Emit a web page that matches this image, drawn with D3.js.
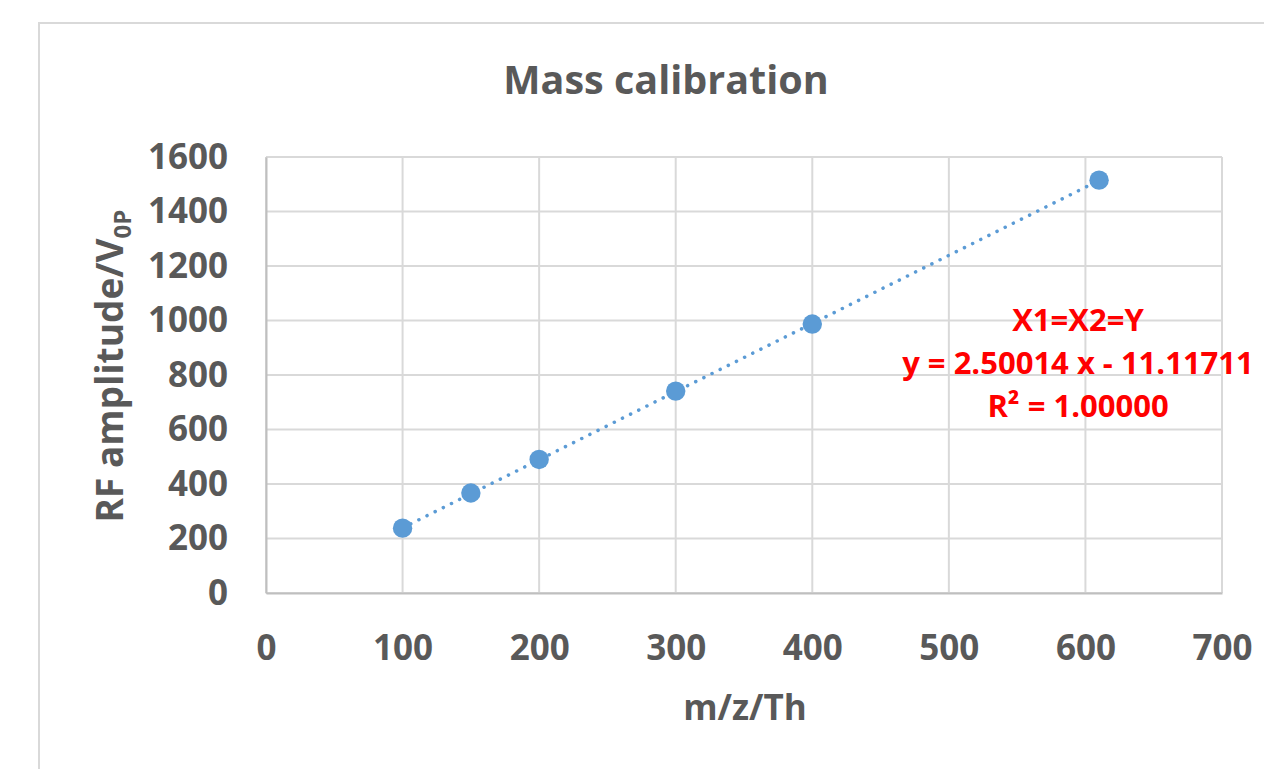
<!DOCTYPE html>
<html><head><meta charset="utf-8">
<script src="https://cdn.jsdelivr.net/npm/d3@7"></script>
<style>body{margin:0;background:#fff;overflow:hidden}</style>
</head><body>
<script>
const massValues = [100, 150, 200, 300, 400, 610];
const rfValues = [238, 367, 490, 741, 987, 1515];
const xTicks = [0, 100, 200, 300, 400, 500, 600, 700];
const yTicks = [0, 200, 400, 600, 800, 1000, 1200, 1400, 1600];
const slope = 2.50014, intercept = -11.11711;
const annotationLines = ["X1=X2=Y", "y = 2.50014 x - 11.11711", "R\u00b2 = 1.00000"];

const W = 1264, H = 769;
const svg = d3.select("body").append("svg").attr("width", W).attr("height", H);
const font = "'Open Sans', 'Noto Sans', sans-serif";
const grey = "#595959";

svg.append("rect").attr("x", 39).attr("y", 23).attr("width", 1300).attr("height", 800)
  .attr("fill", "#fff").attr("stroke", "#d9d9d9").attr("stroke-width", 2);

const x = d3.scaleLinear().domain([0, 700]).range([266, 1222]);
const y = d3.scaleLinear().domain([0, 1600]).range([593, 157]);

const g = svg.append("g");
g.selectAll(".vg").data(xTicks).join("line").attr("x1", d => x(d)).attr("x2", d => x(d))
  .attr("y1", y(0)).attr("y2", y(1600)).attr("stroke", "#d9d9d9").attr("stroke-width", 2);
g.selectAll(".hg").data(yTicks).join("line").attr("x1", x(0)).attr("x2", x(700))
  .attr("y1", d => y(d)).attr("y2", d => y(d)).attr("stroke", "#d9d9d9").attr("stroke-width", 2);

const fmt = d3.format("d");
const xAxis = svg.append("g").attr("transform", `translate(0,${y(0)})`)
  .call(d3.axisBottom(x).tickValues(xTicks).tickFormat(fmt).tickSize(0).tickPadding(42));
const yAxis = svg.append("g").attr("transform", `translate(${x(0)},0)`)
  .call(d3.axisLeft(y).tickValues(yTicks).tickFormat(fmt).tickSize(0).tickPadding(38));
[xAxis, yAxis].forEach(a => {
  a.select(".domain").attr("stroke", "#bfbfbf").attr("stroke-width", 2);
  a.selectAll("text").attr("fill", grey).style("font-family", font)
    .style("font-size", "35px").style("font-weight", "bold");
});

const xs = d3.extent(massValues);
svg.append("line").attr("x1", x(xs[0])).attr("y1", y(slope * xs[0] + intercept))
  .attr("x2", x(xs[1])).attr("y2", y(slope * xs[1] + intercept))
  .attr("stroke", "#5b9bd5").attr("stroke-width", 3.5).attr("stroke-linecap", "round")
  .attr("stroke-dasharray", "0.1 9");

svg.selectAll(".pt").data(massValues).join("circle")
  .attr("cx", d => x(d)).attr("cy", (d, i) => y(rfValues[i])).attr("r", 9.7)
  .attr("fill", "#5b9bd5");

svg.append("text").attr("x", 666).attr("y", 94).attr("text-anchor", "middle")
  .attr("fill", grey).style("font-family", font).style("font-size", "39.5px")
  .style("font-weight", "bold").text("Mass calibration");

svg.append("text").attr("x", 745).attr("y", 720).attr("text-anchor", "middle")
  .attr("fill", grey).style("font-family", font).style("font-size", "35px")
  .style("font-weight", "bold").text("m/z/Th");

const yt = svg.append("text").attr("transform", "translate(123,366) rotate(-90)")
  .attr("text-anchor", "middle").attr("fill", grey).style("font-family", font)
  .style("font-size", "37px").style("font-weight", "bold");
yt.append("tspan").text("RF amplitude/V");
yt.append("tspan").attr("dy", 8).style("font-size", "24px").text("0P");

svg.selectAll(".ann").data(annotationLines).join("text")
  .attr("x", 1078).attr("y", (d, i) => 331 + i * 43).attr("text-anchor", "middle")
  .attr("fill", "#ff0000").style("font-family", font).style("font-size", "31px")
  .style("font-weight", "bold").text(d => d);
</script>
</body></html>
